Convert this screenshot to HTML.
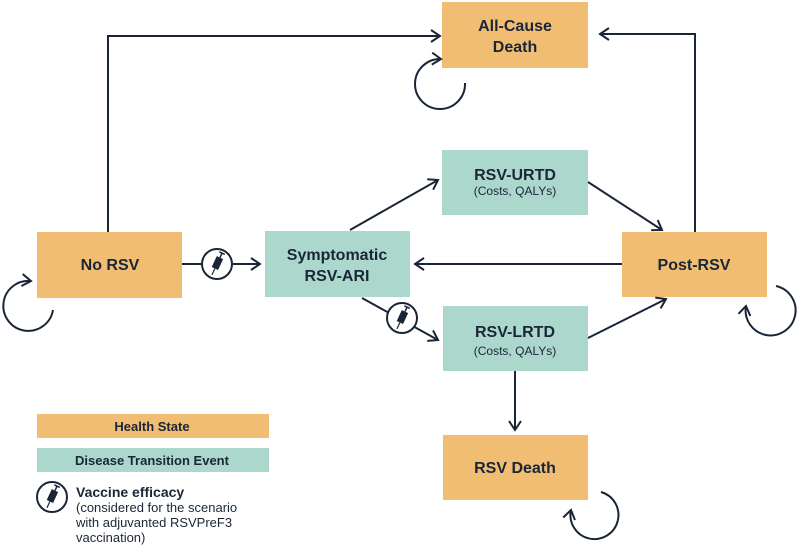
<!DOCTYPE html>
<html><head><style>
html,body{margin:0;padding:0;background:#fff;}
svg{display:block;}
text{font-family:"Liberation Sans",sans-serif;fill:#1a2637;font-weight:bold;}
text.n{font-weight:normal;}
</style></head><body>
<svg width="800" height="553" viewBox="0 0 800 553" xmlns="http://www.w3.org/2000/svg">
<defs>
<marker id="a" markerWidth="14" markerHeight="14" refX="11" refY="7" orient="auto" markerUnits="userSpaceOnUse">
<path d="M2,1 L11,7 L2,13" fill="none" stroke="#1a2637" stroke-width="2"/>
</marker>
<g id="vac">
<circle r="15" fill="#fff" stroke="#1a2637" stroke-width="2"/>
<g transform="rotate(25)"><rect x="-3.5" y="-7" width="7" height="12" fill="#1a2637"/><line x1="0" y1="-7" x2="0" y2="-12" stroke="#1a2637" stroke-width="1.5"/><line x1="-3" y1="-12" x2="3" y2="-12" stroke="#1a2637" stroke-width="1.5"/><line x1="0" y1="5" x2="0" y2="12" stroke="#1a2637" stroke-width="1.2"/></g>
</g>
</defs>
<g fill="#f0bd72">
<rect x="442" y="2" width="146" height="66"/>
<rect x="37" y="232" width="145" height="66"/>
<rect x="622" y="232" width="145" height="65"/>
<rect x="443" y="435" width="145" height="65"/>
<rect x="37" y="414" width="232" height="24"/>
</g>
<g fill="#acd7cc">
<rect x="265" y="231" width="145" height="66"/>
<rect x="442" y="150" width="146" height="65"/>
<rect x="443" y="306" width="145" height="65"/>
<rect x="37" y="448" width="232" height="24"/>
</g>
<g fill="none" stroke="#1a2637" stroke-width="2">
<path d="M108,232 V36 H440" marker-end="url(#a)"/>
<path d="M695,232 V34 H600" marker-end="url(#a)"/>
<path d="M182,264 H260" marker-end="url(#a)"/>
<path d="M622,264 H415" marker-end="url(#a)"/>
<path d="M350,230 L438,180" marker-end="url(#a)"/>
<path d="M588,182 L662,230" marker-end="url(#a)"/>
<path d="M362,298 L438,340" marker-end="url(#a)"/>
<path d="M588,338 L666,299" marker-end="url(#a)"/>
<path d="M515,371 V430" marker-end="url(#a)"/>
<path d="M53,310 A25,25 0 1,1 31,281" marker-end="url(#a)"/>
<path d="M465,83 A25,25 0 1,1 441,59" marker-end="url(#a)"/>
<path d="M776,286 A25,25 0 1,1 746,306" marker-end="url(#a)"/>
<path d="M601,492 A24,24 0 1,1 571,510" marker-end="url(#a)"/>
</g>
<use href="#vac" x="217" y="264"/>
<use href="#vac" x="402" y="318"/>
<use href="#vac" x="52" y="497"/>
<g text-anchor="middle" font-size="16">
<text x="515" y="31">All-Cause</text><text x="515" y="52">Death</text>
<text x="110" y="270">No RSV</text>
<text x="337" y="260">Symptomatic</text><text x="337" y="281">RSV-ARI</text>
<text x="515" y="180">RSV-URTD</text>
<text class="n" x="515" y="195" font-size="12">(Costs, QALYs)</text>
<text x="515" y="337">RSV-LRTD</text>
<text class="n" x="515" y="355" font-size="12">(Costs, QALYs)</text>
<text x="694" y="270">Post-RSV</text>
<text x="515" y="473">RSV Death</text>
<text x="152" y="431" font-size="13">Health State</text>
<text x="152" y="465" font-size="13">Disease Transition Event</text>
</g>
<text x="76" y="497" font-size="14">Vaccine efficacy</text>
<text class="n" x="76" y="512" font-size="13">(considered for the scenario</text>
<text class="n" x="76" y="527" font-size="13">with adjuvanted RSVPreF3</text>
<text class="n" x="76" y="542" font-size="13">vaccination)</text>
</svg>
</body></html>
